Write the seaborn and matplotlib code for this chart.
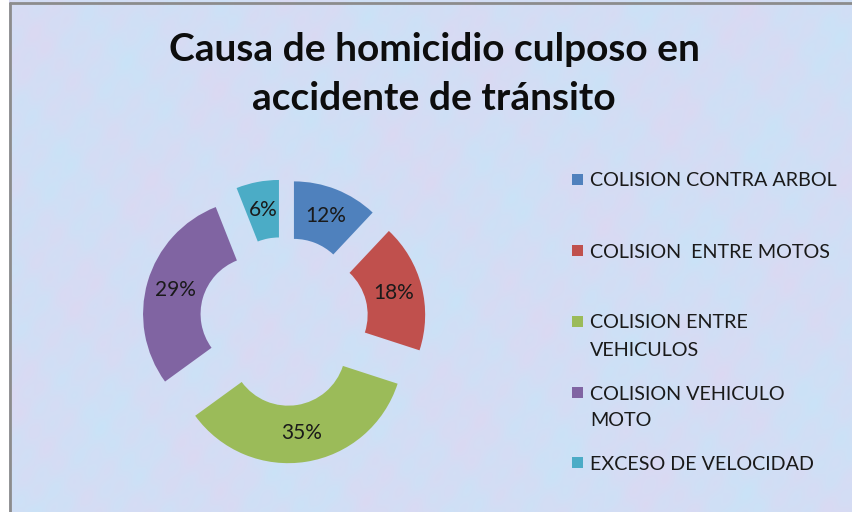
import numpy as np
import matplotlib
matplotlib.use("Agg")
import matplotlib.pyplot as plt
import seaborn as sns
from matplotlib.patches import Rectangle
from matplotlib.lines import Line2D

# ---- data ----
categories = ["COLISION CONTRA ARBOL", "COLISION  ENTRE MOTOS", "COLISION ENTRE\nVEHICULOS",
              "COLISION VEHICULO\nMOTO", "EXCESO DE VELOCIDAD"]
percentages = [12, 18, 35, 29, 6]
title_lines = ["Causa de homicidio culposo en", "accidente de tránsito"]
slice_colors = ["#4F81BD", "#C0504D", "#9BBB59", "#8064A2", "#4BACC6"]

sns.set_theme(style="white")
plt.rcParams["font.family"] = ["Lato", "DejaVu Sans"]

W, H = 852, 512
fig = plt.figure(figsize=(W / 100, H / 100), dpi=100)
ax = fig.add_axes([0, 0, 1, 1])

# ---- mottled background (deterministic pattern) ----
yy, xx = np.mgrid[0:H, 0:W].astype(float)
pat = (np.sin(xx / 37.0 + yy / 53.0) + np.sin(xx / 23.0 - yy / 31.0 + 1.3)
       + 0.7 * np.sin(xx / 11.0 + yy / 17.0 + 2.1) + 0.6 * np.sin(xx / 7.3 - yy / 9.1 + 0.4)
       + 0.5 * np.sin(xx / 4.1 + yy / 5.3))
pat = (pat - pat.min()) / (pat.max() - pat.min())
blue = np.array([0.79, 0.89, 0.97])
lav = np.array([0.86, 0.85, 0.95])
img = blue[None, None, :] * (1 - pat[..., None]) + lav[None, None, :] * pat[..., None]
ax.imshow(img, extent=(0, W, 0, H), zorder=0, aspect="auto", interpolation="bilinear")

# ---- exploded doughnut ----
pal = sns.color_palette(slice_colors)
R = 115
wedges, texts, autotexts = ax.pie(
    percentages, colors=pal, startangle=90, counterclock=False,
    radius=R, center=(284, H - 321.5), explode=[27] * len(percentages),
    wedgeprops=dict(width=57.5, linewidth=0), autopct="%1.0f%%", pctdistance=0.75,
    textprops=dict(fontsize=15, color="#1a1a1a"))
for w in wedges:
    w.set_zorder(2)
for t in autotexts:
    t.set_zorder(3)

ax.set_xlim(0, W)
ax.set_ylim(0, H)
ax.set_aspect("equal")
ax.axis("off")

# ---- title ----
for line, yb in zip(title_lines, [61, 110]):
    ax.text(434, H - yb, line, ha="center", va="baseline",
            fontsize=28, fontweight="bold", color="#0d0d0d", zorder=4)

# ---- legend ----
first_baselines = [186.5, 257.5, 328.5, 399.5, 469.5]
for lab, col, yb in zip(categories, pal, first_baselines):
    ax.add_patch(Rectangle((572, H - yb + 1.5), 11, 11, facecolor=col, edgecolor="none", zorder=4))
    for k, line in enumerate(lab.split("\n")):
        ax.text(590, H - yb - 27 * k, line, ha="left", va="baseline",
                fontsize=14.2, color="#1a1a1a", zorder=4)

# ---- frame lines ----
fig.add_artist(Rectangle((0, 0), 8.5 / W, 1, transform=fig.transFigure, facecolor="white",
                         edgecolor="none", zorder=5))
fig.add_artist(Line2D([9.5 / W, 9.5 / W], [0, 1 - 2.5 / H], transform=fig.transFigure,
                      color="#8c8c8c", linewidth=2, zorder=6))
fig.add_artist(Line2D([9.5 / W, 1], [1 - 2.5 / H, 1 - 2.5 / H], transform=fig.transFigure,
                      color="#8c8c8c", linewidth=2, zorder=6))

fig.savefig("out.png", dpi=100)
